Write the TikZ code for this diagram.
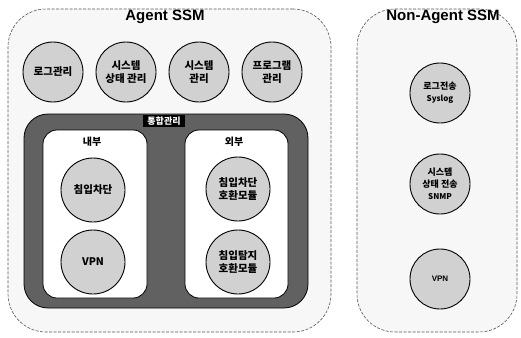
\documentclass[tikz,border=0pt]{standalone}
\usepackage{fontspec}
\setmainfont{Liberation Sans}
\newfontfamily\kr{Noto Sans CJK KR}
\usetikzlibrary{positioning}

\tikzset{
  ssmbox/.style={draw=black!65,line width=0.6pt,dash pattern=on 3pt off 1.5pt,
    rounded corners=38pt,fill=black!3,inner sep=0pt},
  ssmtitle/.style={font=\bfseries\fontsize{15}{17}\selectfont},
  band/.style={draw=black,line width=0.8pt,fill=black!62,rounded corners=24pt,inner sep=0pt},
  zonebox/.style={draw=black,line width=0.8pt,fill=white,rounded corners=14pt,inner sep=0pt},
  module/.style={circle,draw=black,line width=0.9pt,fill=black!18,inner sep=0pt,
    minimum size=#1,align=center,font=\kr\bfseries\fontsize{10.5}{13.5}\selectfont},
  module/.default=60pt,
  zonelabel/.style={font=\kr\bfseries\fontsize{10}{12}\selectfont}
}

\begin{document}
\begin{tikzpicture}[x=1pt,y=-1pt]
\useasboundingbox (0,0) rectangle (521,337);

% Agent SSM
\node[ssmbox,minimum width=323pt,minimum height=323pt] (agent) at (169.5,170.5) {};
\node[ssmtitle] (agenttitle) at (165,17) {Agent SSM};
\node[module] (logmgmt) at (53,72) {로그관리};
\node[module] (statmgmt) at (126,72) {시스템\\상태 관리};
\node[module] (sysmgmt) at (199,72) {시스템\\관리};
\node[module] (progmgmt) at (272,72) {프로그램\\관리};

% integrated management band
\node[band,minimum width=284pt,minimum height=194pt] (integ) at (166,211) {};
\node[fill=black,text=white,font=\kr\bfseries\fontsize{9}{10}\selectfont,
  inner xsep=4pt,inner ysep=1.5pt] (integlabel) at (164,121) {통합관리};
\node[zonebox,minimum width=104pt,minimum height=168pt] (inside) at (95,214) {};
\node[zonebox,minimum width=103pt,minimum height=168pt] (outside) at (236.5,214) {};
\node[zonelabel] (insidelabel) at (92,142) {내부};
\node[zonelabel] (outsidelabel) at (234,142) {외부};
\node[module=64pt] (fw) at (93,190) {침입차단};
\node[module=64pt] (vpnin) at (93,262) {VPN};
\node[module=64pt] (fwmod) at (238,189) {침입차단\\호환모듈};
\node[module=64pt] (idsmod) at (238,262) {침입탐지\\호환모듈};

% Non-Agent SSM
\node[ssmbox,minimum width=160pt,minimum height=323pt] (nonagent) at (437,170.5) {};
\node[ssmtitle] (nonagenttitle) at (443,17) {Non-Agent SSM};
\node[module=60pt,font=\kr\bfseries\fontsize{9}{12}\selectfont] (syslog) at (440,93) {로그전송\\{\fontsize{8}{10}\selectfont Syslog}};
\node[module=60pt,font=\kr\bfseries\fontsize{9}{12}\selectfont] (snmp) at (440,184) {시스템\\상태 전송\\{\fontsize{8}{10}\selectfont SNMP}};
\node[module=60pt,font=\bfseries\fontsize{8}{10}\selectfont] (vpnout) at (440,279) {VPN};
\end{tikzpicture}
\end{document}
